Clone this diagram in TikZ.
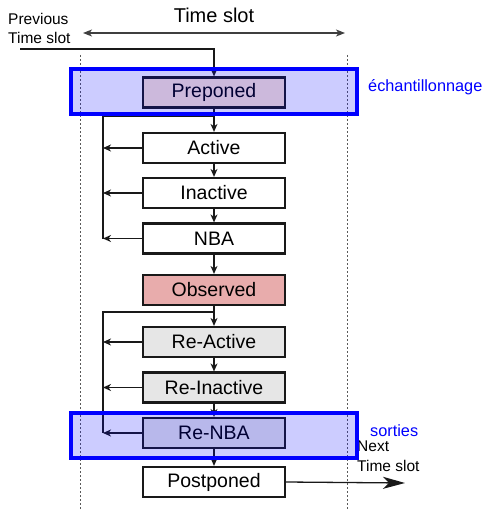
\documentclass[tikz,border=0pt]{standalone}
\usepackage{fontspec}
\setmainfont{Liberation Sans}
\usetikzlibrary{arrows.meta}
\definecolor{boxline}{RGB}{25,25,25}
\definecolor{prepfill}{RGB}{255,232,212}
\definecolor{obsfill}{RGB}{232,172,172}
\definecolor{refill}{RGB}{230,230,230}
\definecolor{guide}{RGB}{90,90,90}
\tikzset{
  region/.style={stepbox, minimum width=142pt, minimum height=30pt},
  stepbox/.style={draw=boxline, line width=2.2pt, fill=white, inner sep=0pt,
    font=\fontsize{19.5}{21}\selectfont},
  flow/.style={draw=boxline, line width=1.3pt, -{Stealth[length=8pt,width=7pt,inset=2.5pt]}},
  wire/.style={draw=boxline, line width=1.3pt},
  guideline/.style={draw=guide, line width=0.9pt, dash pattern=on 2pt off 2pt},
  band/.style={draw=blue, line width=3.2pt, fill=blue, fill opacity=0.2},
  side/.style={font=\fontsize{15.5}{17}\selectfont, inner sep=0pt},
}
\begin{document}
\begin{tikzpicture}[x=1pt,y=-1pt]
\useasboundingbox (0,0) rectangle (483,511);

% time slot boundaries
\coordinate (gl1) at (80,55);  \coordinate (gl2) at (80,511);
\coordinate (gr1) at (347,55); \coordinate (gr2) at (347,511);
\draw[guideline] (gl1) -- (gl2);
\draw[guideline] (gr1) -- (gr2);

% time slot span
\node[font=\fontsize{20}{22}\selectfont, inner sep=0pt] (tslot) at (214,15) {Time slot};
\coordinate (ta) at (83,33);
\coordinate (tb) at (345,33);
\draw[draw=guide!70!black, line width=1.2pt, {Stealth[length=9pt,width=7pt,inset=2.5pt]}-{Stealth[length=9pt,width=7pt,inset=2.5pt]}] (ta) -- (tb);

\node[side, anchor=west, align=left] (prev) at (8,28) {Previous\\[2pt]Time slot};

% scheduling regions
\node[region, fill=prepfill] (prep) at (214,92.5) {Preponed};
\node[region] (act) at (214,148) {Active};
\node[region] (inact) at (214,193) {Inactive};
\node[region] (nba) at (214,238.5) {NBA};
\node[region, fill=obsfill] (obs) at (214,290) {Observed};
\node[region, fill=refill] (ract) at (214,342) {Re-Active};
\node[region, fill=refill] (rinact) at (214,387.5) {Re-Inactive};
\node[region, fill=refill] (rnba) at (214,433) {Re-NBA};
\node[region] (post) at (214,482) {Postponed};

% entry from previous slot
\coordinate (in0) at (20,49);
\coordinate (in1) at (214,49);
\draw[flow] (in0) -- (in1) -- (prep.north);

% forward flow
\draw[flow] (prep) -- (act);
\draw[flow] (act) -- (inact);
\draw[flow] (inact) -- (nba);
\draw[flow] (nba) -- (obs);
\draw[flow] (obs) -- (ract);
\draw[flow] (ract) -- (rinact);
\draw[flow] (rinact) -- (rnba);
\draw[flow] (rnba) -- (post);

% first iteration loop
\coordinate (la0) at (214,116);
\coordinate (la1) at (103,116);
\coordinate (la2) at (103,238.5);
\draw[wire] (la0) -- (la1) -- (la2);
\draw[flow] (act.west) -- (act.west -| la1);
\draw[flow] (inact.west) -- (inact.west -| la1);
\draw[flow] (nba.west) -- (nba.west -| la1);

% second iteration loop
\coordinate (lb0) at (214,312);
\coordinate (lb1) at (103,312);
\coordinate (lb2) at (103,433);
\draw[wire] (lb0) -- (lb1) -- (lb2);
\draw[flow] (ract.west) -- (ract.west -| lb1);
\draw[flow] (rinact.west) -- (rinact.west -| lb1);
\draw[flow] (rnba.west) -- (rnba.west -| lb1);

% exit to next slot
\coordinate (out) at (405,483);
\draw[draw=boxline, line width=1.3pt, -{Stealth[length=22pt,width=12pt,inset=6pt]}] (post.east) -- (out);
\node[side, anchor=north west, align=left] (next) at (357,441) {Next\\[3pt]Time slot};

% sampling and output bands
\node[band, minimum width=286pt, minimum height=45pt, inner sep=0pt] (bsamp) at (214,91.5) {};
\node[band, minimum width=286pt, minimum height=45pt, inner sep=0pt] (bout) at (214,435.5) {};
\node[side, anchor=west, text=blue, font=\fontsize{16.3}{18}\selectfont] (samp) at (368,87) {échantillonnage};
\node[side, anchor=west, text=blue, font=\fontsize{16.3}{18}\selectfont] (sort) at (370,431) {sorties};
\end{tikzpicture}
\end{document}
